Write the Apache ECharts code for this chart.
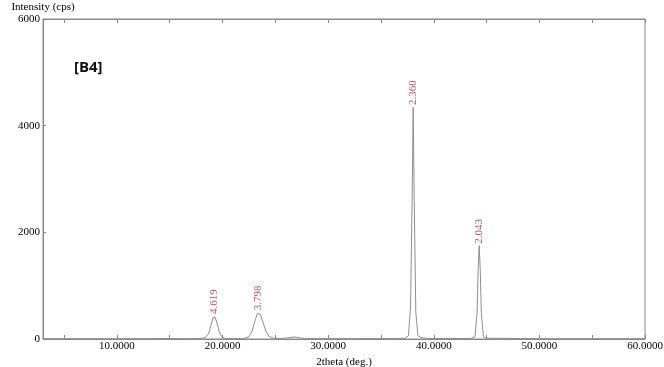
<!DOCTYPE html>
<html><head><meta charset="utf-8">
<script src="https://cdn.jsdelivr.net/npm/echarts@6/dist/echarts.min.js"></script>
<style>html,body{margin:0;padding:0;background:#fff}#c{width:664px;height:367px}</style>
</head><body><div id="c"></div>
<script>
const twoTheta = [3,6,10,13,14,15,16,17,18,18.4,18.7,18.9,19.1,19.2,19.3,19.5,19.7,19.9,20.2,21,22,22.5,22.8,23.1,23.3,23.4,23.6,23.8,24.1,24.4,24.8,25.5,26.2,26.6,27,27.5,28,32,36,37.3,37.6,37.8,37.95,38.05,38.15,38.3,38.5,38.8,39.5,43.5,43.9,44.1,44.2,44.3,44.4,44.5,44.7,45,50,55,60];
const intensity = [5,5,5,6,8,10,6,6,10,30,110,250,400,430,410,280,130,45,12,8,10,40,150,360,480,500,460,330,150,50,15,10,20,35,35,15,8,6,8,15,60,600,2600,4350,2600,500,60,25,10,10,40,500,1300,1750,1300,500,40,15,5,5,5];
const peakX = [19.2, 23.4, 38.05, 44.3];
const peakY = [430, 500, 4350, 1750];
const peakLabels = ['4.619', '3.798', '2.360', '2.043'];
const xLabelValues = [10,20,30,40,50,60];
const xTickValues = [5,10,15,20,25,30,35,40,45,50,55,60];

const chart = echarts.init(document.getElementById('c'));
const serif = 'Liberation Serif';
const axisCol = '#8a8a8a';
chart.setOption({
  animation: false,
  backgroundColor: '#fff',
  grid: {left: 43, right: 19, top: 19, bottom: 28, outerBoundsMode: 'none', containLabel: false, show: true, borderColor: axisCol, borderWidth: 1},
  xAxis: [{
    type: 'value', min: 3, max: 60,
    name: '2theta (deg.)', nameLocation: 'middle', nameGap: 12,
    nameTextStyle: {fontFamily: serif, fontSize: 11, color: '#000'},
    axisLine: {lineStyle: {color: axisCol}},
    axisTick: {inside: true, length: 4, customValues: xTickValues, lineStyle: {color: axisCol}},
    axisLabel: {customValues: xLabelValues, formatter: v => v.toFixed(4), fontFamily: serif, fontSize: 11, color: '#000', margin: 2},
    splitLine: {show: false}
  }, {
    type: 'value', min: 3, max: 60, position: 'top',
    axisLine: {lineStyle: {color: axisCol}},
    axisTick: {inside: true, length: 4, customValues: xTickValues, lineStyle: {color: axisCol}},
    axisLabel: {show: false},
    splitLine: {show: false}
  }],
  yAxis: {
    type: 'value', min: 0, max: 6000, interval: 2000,
    name: 'Intensity (cps)', nameLocation: 'end', nameGap: 6,
    nameTextStyle: {fontFamily: serif, fontSize: 11, color: '#000'},
    axisLine: {show: true, lineStyle: {color: axisCol}},
    axisTick: {show: true, inside: true, length: 3, lineStyle: {color: axisCol}},
    axisLabel: {formatter: v => String(v), fontFamily: serif, fontSize: 11, color: '#000', margin: 3},
    splitLine: {show: false}
  },
  graphic: [{type: 'text', left: 74, top: 60, style: {text: '[B4]', fontFamily: 'Open Sans', fontWeight: 'bold', fontSize: 15, fill: '#111'}}],
  series: [{
    type: 'line', data: twoTheta.map((x, i) => [x, intensity[i]]),
    showSymbol: false, symbol: 'none', lineStyle: {color: '#8f8f8f', width: 1}
  }, {
    type: 'scatter', data: peakX.map((x, i) => [x, peakY[i]]),
    symbolSize: 0, silent: true,
    label: {show: true, position: 'top', rotate: 90, align: 'left', verticalAlign: 'middle', distance: 2,
      formatter: p => peakLabels[p.dataIndex], fontFamily: serif, fontSize: 11, color: '#b8252b'}
  }]
});
</script></body></html>
